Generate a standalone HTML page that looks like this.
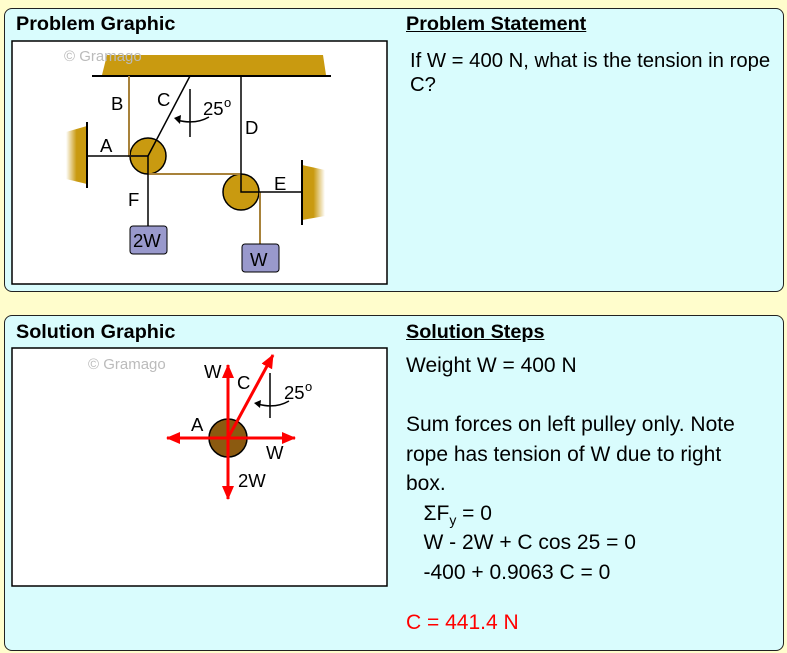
<!DOCTYPE html>
<html><head><style>
body{margin:0;width:787px;height:653px;background:#fffdcc;font-family:"Liberation Sans",sans-serif;position:relative;overflow:hidden}
.p{position:absolute;left:4px;width:778px;background:#d9fcfd;border:1.5px solid #222;border-radius:8px}
.h{position:absolute;font-weight:bold;font-size:19.8px}
.u{text-decoration:underline}
.t{position:absolute;font-size:20.3px;line-height:29.5px}
.s{font-size:21px;line-height:29.5px}
sub{font-size:14px;line-height:0}
svg{position:absolute}
</style></head><body>
<div class="p" style="top:8px;height:282px"></div>
<div class="p" style="top:315px;height:334px"></div>
<div class="h" style="left:16px;top:13px">Problem Graphic</div>
<div class="h u" style="left:406px;top:13px">Problem Statement</div>
<div class="t" style="left:410px;top:49px;line-height:24px">If W = 400 N, what is the tension in rope<br>C?</div>
<div class="h" style="left:16px;top:321px">Solution Graphic</div>
<div class="h u" style="left:406px;top:321px">Solution Steps</div>
<div class="t s" style="left:406px;top:351px">Weight W = 400 N<br><br>Sum forces on left pulley only. Note<br>rope has tension of W due to right<br>box.<br>&nbsp;&nbsp;&nbsp;ΣF<sub>y</sub> = 0<br>&nbsp;&nbsp;&nbsp;W - 2W + C cos 25 = 0<br>&nbsp;&nbsp;&nbsp;-400 + 0.9063 C = 0</div>
<div class="t s" style="left:406px;top:608px;color:#f00">C = 441.4 N</div>

<svg width="787" height="653" style="left:0;top:0" font-family="Liberation Sans, sans-serif">
<defs>
<linearGradient id="gl" x1="0" x2="1"><stop offset="0" stop-color="#fff"/><stop offset="0.5" stop-color="#c99a10"/></linearGradient>
<linearGradient id="gr" x1="1" x2="0"><stop offset="0" stop-color="#fff"/><stop offset="0.5" stop-color="#c99a10"/></linearGradient>
<marker id="ar" markerWidth="14" markerHeight="14" refX="13" refY="6" orient="auto" markerUnits="userSpaceOnUse" viewBox="0 0 14 12"><path d="M0,0L14,6L0,12z" fill="#f00"/></marker>
</defs>
<rect x="12" y="41" width="375" height="243" fill="#fff" stroke="#000" stroke-width="1.5"/>
<polygon points="107,55 323,55 326,75 102,75" fill="#c99a10"/>
<text x="64" y="61" fill="#bbb" font-size="15">© Gramago</text>
<line x1="92" y1="76" x2="331" y2="76" stroke="#000" stroke-width="2"/>
<polygon points="66,132 87,126 87,184 66,179" fill="url(#gl)"/>
<line x1="87" y1="122" x2="87" y2="188" stroke="#000" stroke-width="2"/>
<polygon points="325,170 302,165 302,220 325,216" fill="url(#gr)"/>
<line x1="302" y1="160" x2="302" y2="225" stroke="#000" stroke-width="2"/>
<circle cx="148" cy="156" r="18" fill="#c99a10" stroke="#000" stroke-width="1.5"/>
<circle cx="241" cy="192" r="18" fill="#c99a10" stroke="#000" stroke-width="1.5"/>
<g stroke="#a8823a" stroke-width="2" fill="none">
<polyline points="129,76 129,156 148,156"/>
<polyline points="148,174 241,174"/>
<line x1="260" y1="192" x2="260" y2="244"/>
</g>
<g stroke="#000" stroke-width="1.5" fill="none">
<line x1="190" y1="76" x2="148" y2="156"/>
<polyline points="87,156 148,156 148,226"/>
<polyline points="241,76 241,192 302,192"/>
<line x1="190" y1="89" x2="190" y2="137"/>
<path d="M209,117 Q195,125 177,120"/>
</g>
<path d="M174,118 L181,115 L180,124z" fill="#000"/>
<rect x="130" y="226" width="37" height="28" rx="3" fill="#9999cc" stroke="#000"/>
<rect x="242" y="244" width="37" height="28" rx="3" fill="#9999cc" stroke="#000"/>
<g font-size="18.5">
<text x="133" y="247">2W</text><text x="250" y="266">W</text>
<text x="111" y="110">B</text><text x="157" y="106">C</text>
<text x="203" y="115">25</text><text x="224" y="107" font-size="13">o</text>
<text x="245" y="134">D</text><text x="100" y="152">A</text>
<text x="128" y="206">F</text><text x="274" y="190">E</text>
</g>

<rect x="12" y="348" width="375" height="238" fill="#fff" stroke="#000" stroke-width="1.5"/>
<text x="88" y="369" fill="#bbb" font-size="15">© Gramago</text>
<circle cx="228" cy="438" r="19" fill="#8b5a10" stroke="#000" stroke-width="1.5"/>
<g stroke="#f00" stroke-width="3" marker-end="url(#ar)">
<line x1="228" y1="438" x2="228" y2="365"/>
<line x1="228" y1="438" x2="228" y2="499"/>
<line x1="228" y1="438" x2="167" y2="438"/>
<line x1="228" y1="438" x2="295" y2="438"/>
<line x1="228" y1="438" x2="273" y2="355"/>
</g>
<line x1="270" y1="373" x2="270" y2="418" stroke="#000" stroke-width="1.5"/>
<path d="M289,401 Q275,409 258,404" stroke="#000" stroke-width="1.5" fill="none"/>
<path d="M254,403 L261,400 L260,408z" fill="#000"/>
<g font-size="18.5">
<text x="204" y="378">W</text><text x="237" y="389">C</text>
<text x="284" y="399">25</text><text x="305" y="391" font-size="13">o</text>
<text x="191" y="431">A</text><text x="266" y="459">W</text>
<text x="238" y="487">2W</text>
</g>
</svg>
</body></html>
